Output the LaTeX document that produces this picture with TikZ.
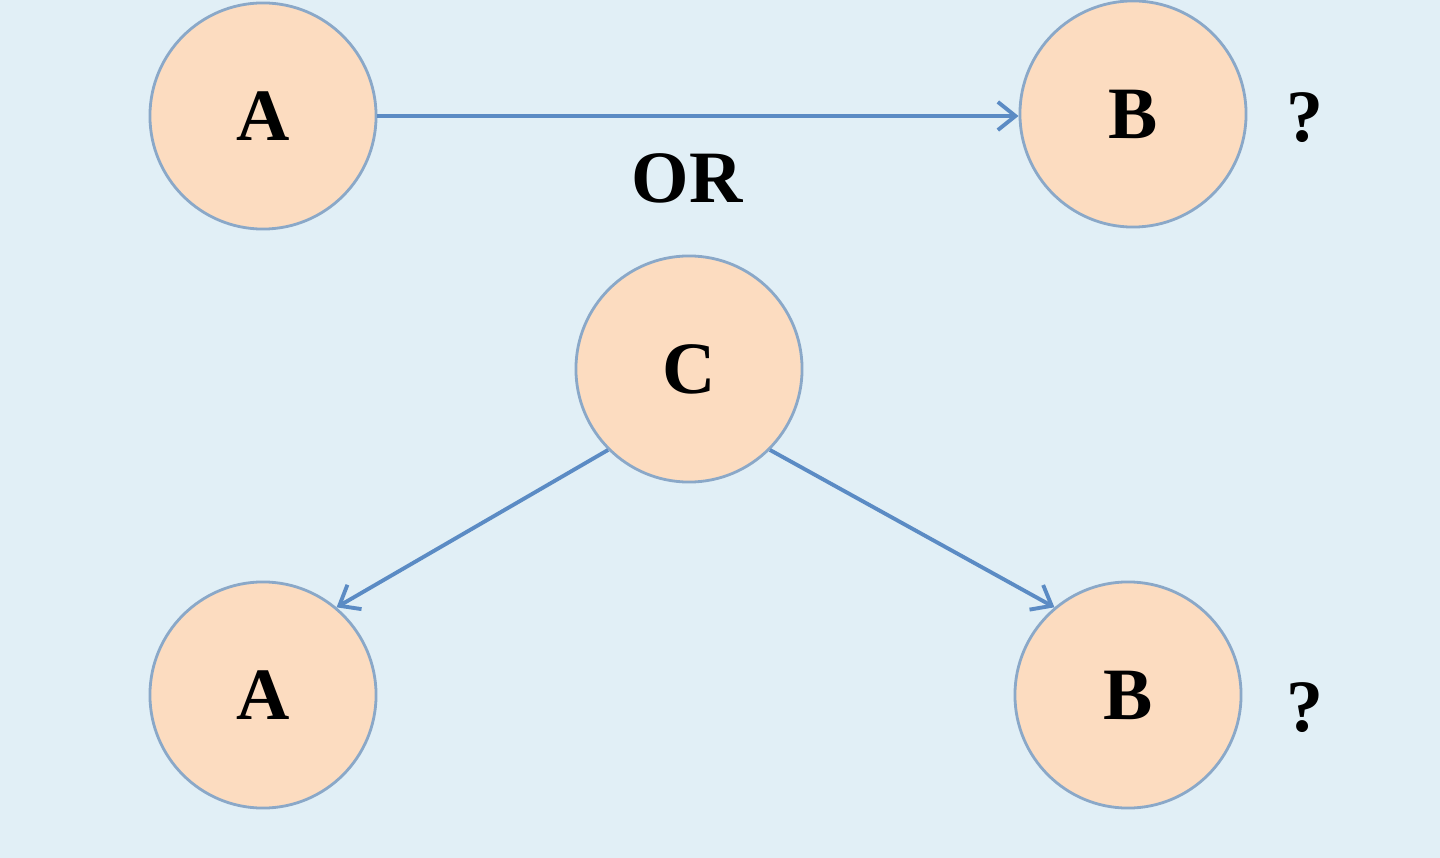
\documentclass[tikz,border=0pt]{standalone}
\usepackage{fontspec}
\setmainfont{Liberation Serif}
\usetikzlibrary{arrows.meta}
\definecolor{bgblue}{HTML}{E1EFF6}
\definecolor{peach}{HTML}{FCDCC0}
\definecolor{rimblue}{HTML}{8AA8C8}
\definecolor{arrblue}{HTML}{5B8BC4}
\begin{document}
\begin{tikzpicture}[x=0.01cm,y=-0.01cm,
    ball/.style={circle,draw=rimblue,fill=peach,line width=0.8pt,minimum size=2.26cm,inner sep=0pt,font=\fontsize{21}{24}\selectfont\bfseries},
    lbl/.style={font=\fontsize{21}{24}\selectfont\bfseries},
    link/.style={draw=arrblue,line width=1.1pt,-{Straight Barb[length=5pt,width=8pt]}}]
            % Background
            \fill[bgblue] (0,0) rectangle (1440,858);
            \useasboundingbox (0,0) rectangle (1440,858);
            % First case
            \node[ball] (A1) at (263,116) {A};
            \node[ball] (B1) at (1133,114) {B};
            \node[lbl] (Q1) at (1305,118) {?};
            \draw[link] (A1.east) -- (A1.east -| B1.west);
            \node[lbl] (or) at (687,178) {OR};
            % Second case: common cause
            \node[ball] (C) at (689,369) {C};
            \node[ball] (A2) at (263,695) {A};
            \node[ball] (B2) at (1128,695) {B};
            \node[lbl] (Q2) at (1305,708) {?};
            \draw[link] (C.-135) -- (A2.50);
            \draw[link] (C.-45) -- (B2.130);
        \end{tikzpicture}
\end{document}
